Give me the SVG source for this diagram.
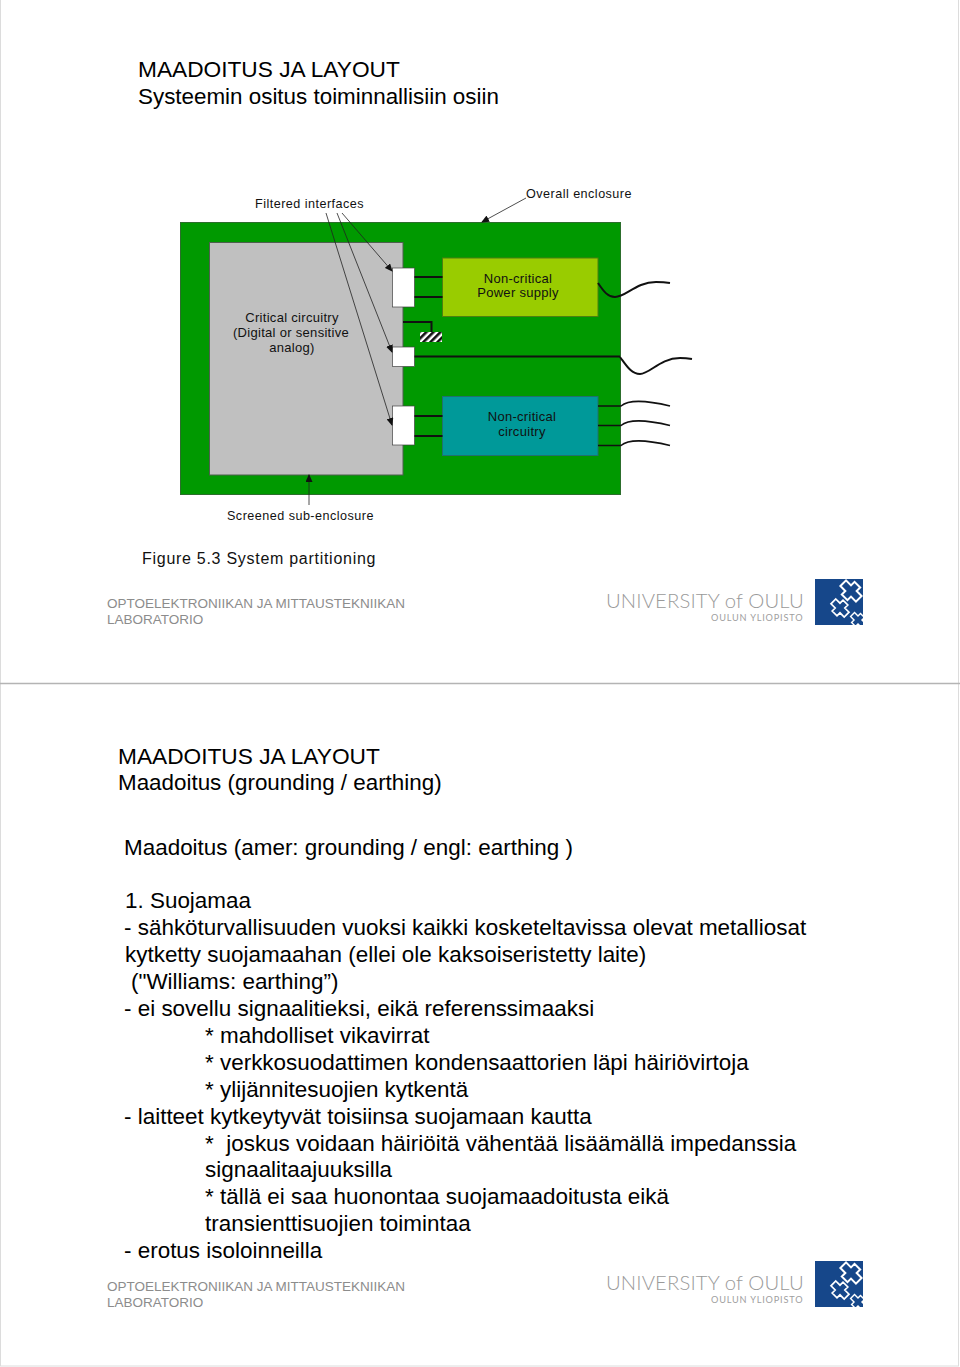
<svg xmlns="http://www.w3.org/2000/svg" width="960" height="1367" viewBox="0 0 960 1367">
<style>
.t{font-family:"Liberation Sans",Arial,sans-serif;fill:#000}
.h{font-size:22.5px}
.b{font-size:22.45px}
.d{font-size:13px;fill:#111;text-anchor:middle;letter-spacing:.3px}
.f{font-size:12.6px;fill:#111;letter-spacing:.47px}
.foot{font-family:"Liberation Sans",Arial,sans-serif;font-size:13.5px;fill:#8c8c8c}
.uni{font-family:"Lato","Liberation Sans",sans-serif;font-weight:300;font-size:20.3px;fill:#9a9a9a;letter-spacing:.12px}
.yl{font-family:"Lato","Liberation Sans",sans-serif;font-size:9.2px;fill:#a0a0a0;letter-spacing:.8px}
.w{stroke:#111;stroke-width:2;fill:none}
.wt{stroke:#111;stroke-width:1.6;fill:none}
.thin{stroke:#222;stroke-width:.8;fill:none}
.iface{fill:#fff;stroke:#444;stroke-width:.7}
.lg{fill:none;stroke:#fff;stroke-width:2}
</style>
<defs>
<marker id="ah" markerWidth="8" markerHeight="7" refX="7" refY="3.5" orient="auto" markerUnits="userSpaceOnUse"><path d="M0 0L8 3.5L0 7Z" fill="#111"/></marker>
<pattern id="hatch" width="5" height="5" patternUnits="userSpaceOnUse" patternTransform="rotate(45)"><rect width="5" height="5" fill="#fff"/><rect width="2.6" height="5" fill="#111"/></pattern>
<clipPath id="lc"><rect x="815" y="579" width="48" height="46"/></clipPath>
<path id="pz" d="M-11-4H-4V-9H4V-4H11V4H4V9H-4V4H-11Z"/>
<g id="logo">
<text class="uni" x="606" y="608">UNIVERSITY of OULU</text>
<text class="yl" x="711" y="621">OULUN YLIOPISTO</text>
<rect x="815" y="579" width="48" height="46" fill="#16478a"/>
<g clip-path="url(#lc)">
<use href="#pz" class="lg" transform="translate(851 591) rotate(45)"/>
<use href="#pz" class="lg" transform="translate(840 608) rotate(45) scale(.85)"/>
<use href="#pz" class="lg" transform="translate(858 620) rotate(45) scale(.7)"/>
</g>
</g>
</defs>
<rect width="960" height="1367" fill="#fff"/>
<g id="pages" fill="none">
<path d="M.5 0V1366M958.500 0V1366M0 1366H959" stroke="#dcdcdc"/>
<path d="M0 683.500H960" stroke="#b4b4b4" stroke-width="1.500"/>
</g>

<g id="slide-1-title">
<text class="t h" x="138" y="77" style="font-size:22.7px">MAADOITUS JA LAYOUT</text>
<text class="t h" x="138" y="104" style="font-size:22.4px">Systeemin ositus toiminnallisiin osiin</text>
</g>

<g id="overall-enclosure"><rect x="180.500" y="222.500" width="440" height="272" fill="#009900" stroke="#2c6e2c"/></g>
<g id="critical-circuitry"><rect x="209.500" y="242.500" width="193.500" height="232.500" fill="#c0c0c0" stroke="#4e5f4e"/>
<text class="t d" x="292" y="322">Critical circuitry</text>
<text class="t d" x="291" y="337">(Digital or sensitive</text>
<text class="t d" x="292" y="352">analog)</text></g>
<g id="power-supply"><rect x="442.500" y="258" width="155.500" height="58.500" fill="#99cc00" stroke="#4e7f10"/>
<text class="t d" x="518" y="283">Non-critical</text>
<text class="t d" x="518" y="297">Power supply</text></g>
<g id="non-critical-circuitry"><rect x="442.500" y="396.500" width="155.500" height="59" fill="#009999" stroke="#20706f"/>
<text class="t d" x="522" y="421">Non-critical</text>
<text class="t d" x="522" y="436">circuitry</text></g>
<g id="interface-1"><rect class="iface" x="392.500" y="268" width="22" height="39"/></g>
<g id="interface-2"><rect class="iface" x="392.500" y="347" width="22" height="19.500"/></g>
<g id="interface-3"><rect class="iface" x="392.500" y="406" width="22" height="39"/></g>
<g id="ground"><rect x="420" y="332" width="22" height="10" fill="url(#hatch)"/></g>

<g id="connectors">
<path class="w" d="M414.500 277H442.500M414.500 297H442.500M414.500 356.500H620M414.500 416H442.500M414.500 436H442.500M403 322H431.500V332"/>
<path class="w" d="M598 283C604 292 608 297 615 297C626 297 636 282 656 282Q664 282 670 283"/>
<path class="w" d="M620 357C626 365 631 374 640 374C650 374 660 358 680 358Q686 358 692 359"/>
<path class="wt" d="M598 406H621C628 400 645 400 670 406M598 425.500H621C628 419.500 645 419.500 670 425.500M598 445.500H621C628 439.500 645 439.500 670 445.500"/>
<path class="thin" marker-end="url(#ah)" d="M342 213L392 271"/>
<path class="thin" marker-end="url(#ah)" d="M337 213L392 352"/>
<path class="thin" marker-end="url(#ah)" d="M326 213L392 425"/>
<path class="thin" marker-end="url(#ah)" d="M526 198L482 222"/>
<path class="thin" marker-end="url(#ah)" d="M309 505V475"/>
</g>

<g id="diagram-labels">
<text class="t f" x="255" y="208">Filtered interfaces</text>
<text class="t f" x="526" y="198">Overall enclosure</text>
<text class="t f" x="227" y="520">Screened sub-enclosure</text>
<text class="t" x="142" y="564" font-size="16" letter-spacing=".72" style="fill:#111">Figure 5.3 System partitioning</text>
</g>

<g id="slide-1-footer">
<text class="foot" x="107" y="608">OPTOELEKTRONIIKAN JA MITTAUSTEKNIIKAN</text>
<text class="foot" x="107" y="624">LABORATORIO</text>
<use href="#logo"/>
</g>

<g id="slide-2-text">
<text class="t h" x="118" y="764" style="font-size:22.7px">MAADOITUS JA LAYOUT</text>
<text class="t h" x="118" y="790" style="font-size:22.4px">Maadoitus (grounding / earthing)</text>
<text class="t b" x="124" y="855">Maadoitus (amer: grounding / engl: earthing )</text>
<text class="t b" x="125" y="908">1. Suojamaa</text>
<text class="t b" x="124" y="935">- sähköturvallisuuden vuoksi kaikki kosketeltavissa olevat metalliosat</text>
<text class="t b" x="125" y="962">kytketty suojamaahan (ellei ole kaksoiseristetty laite)</text>
<text class="t b" x="131" y="989">("Williams: earthing”)</text>
<text class="t b" x="124" y="1016">- ei sovellu signaalitieksi, eikä referenssimaaksi</text>
<text class="t b" x="205" y="1043">* mahdolliset vikavirrat</text>
<text class="t b" x="205" y="1070">* verkkosuodattimen kondensaattorien läpi häiriövirtoja</text>
<text class="t b" x="205" y="1097">* ylijännitesuojien kytkentä</text>
<text class="t b" x="124" y="1124">- laitteet kytkeytyvät toisiinsa suojamaan kautta</text>
<text class="t b" x="205" y="1151" xml:space="preserve">*  joskus voidaan häiriöitä vähentää lisäämällä impedanssia</text>
<text class="t b" x="205" y="1177">signaalitaajuuksilla</text>
<text class="t b" x="205" y="1204">* tällä ei saa huonontaa suojamaadoitusta eikä</text>
<text class="t b" x="205" y="1231">transienttisuojien toimintaa</text>
<text class="t b" x="124" y="1258">- erotus isoloinneilla</text>
</g>

<g id="slide-2-footer">
<text class="foot" x="107" y="1291">OPTOELEKTRONIIKAN JA MITTAUSTEKNIIKAN</text>
<text class="foot" x="107" y="1307">LABORATORIO</text>
<use href="#logo" y="682"/>
</g>
</svg>
